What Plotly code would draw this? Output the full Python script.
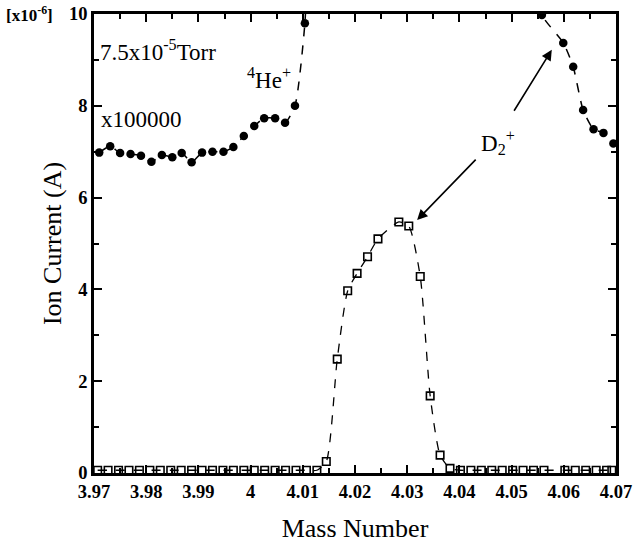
import plotly.graph_objects as go

# 4He+ signal (scaled x100000), left flank of the peak; last value runs off scale
he_left_mass = [3.9710, 3.9731, 3.9750, 3.9770, 3.9790, 3.9810, 3.9830, 3.9850,
                3.9868, 3.9887, 3.9907, 3.9927, 3.9948, 3.9967, 3.9987, 4.0007,
                4.0026, 4.0047, 4.0066, 4.0085, 4.0104, 4.0108]
he_left_current = [6.98, 7.12, 6.97, 6.95, 6.91, 6.78, 6.93, 6.88,
                   6.97, 6.77, 6.98, 7.00, 7.00, 7.10, 7.34, 7.56,
                   7.73, 7.73, 7.63, 8.00, 9.80, 11.0]

# 4He+ signal (scaled x100000), right flank of the peak; first value is off scale
he_right_mass = [4.0540, 4.0558, 4.0599, 4.0618, 4.0637, 4.0657, 4.0676, 4.0695]
he_right_current = [11.0, 9.98, 9.37, 8.85, 7.91, 7.49, 7.41, 7.18]

# D2+ signal, unscaled
d2_mass = [3.9707, 3.9727, 3.9747, 3.9767, 3.9787, 3.9807, 3.9827, 3.9847,
           3.9867, 3.9887, 3.9907, 3.9927, 3.9947, 3.9967, 3.9987, 4.0007,
           4.0027, 4.0047, 4.0067, 4.0087, 4.0107, 4.0127,
           4.0145, 4.0166, 4.0186, 4.0204, 4.0224, 4.0244, 4.0284, 4.0303,
           4.0325, 4.0344, 4.0363, 4.0382,
           4.0402, 4.0422, 4.0442, 4.0462, 4.0482, 4.0502, 4.0522, 4.0542,
           4.0562, 4.0602, 4.0622, 4.0642, 4.0662, 4.0682, 4.0692]
d2_current = [0.06, 0.06, 0.06, 0.06, 0.06, 0.06, 0.06, 0.06,
              0.06, 0.06, 0.06, 0.06, 0.06, 0.06, 0.06, 0.06,
              0.06, 0.06, 0.06, 0.06, 0.06, 0.06,
              0.25, 2.48, 3.97, 4.35, 4.71, 5.10, 5.47, 5.38,
              4.28, 1.68, 0.39, 0.10,
              0.06, 0.06, 0.06, 0.06, 0.06, 0.06, 0.06, 0.06,
              0.06, 0.06, 0.06, 0.06, 0.06, 0.06, 0.06]

x_range = [3.97, 4.07]
y_range = [0, 10]
x_tick_vals = [3.97, 3.98, 3.99, 4.00, 4.01, 4.02, 4.03, 4.04, 4.05, 4.06, 4.07]
x_tick_text = ["3.97", "3.98", "3.99", "4", "4.01", "4.02", "4.03", "4.04", "4.05", "4.06", "4.07"]
y_tick_vals = [0, 2, 4, 6, 8, 10]

SERIF = "Liberation Serif, Times New Roman, serif"
INK = "black"

fig = go.Figure()

circle_style = dict(mode="lines+markers",
                    line=dict(color=INK, width=1.5, dash="dash", shape="spline", smoothing=0.6),
                    marker=dict(symbol="circle", size=8.5, color=INK),
                    showlegend=False, hoverinfo="x+y")

fig.add_trace(go.Scatter(x=he_left_mass, y=he_left_current, **circle_style))
fig.add_trace(go.Scatter(x=he_right_mass, y=he_right_current, **circle_style))

# D2+ series lives on the top/right frame axes (same ranges), so those axes get drawn
fig.add_trace(go.Scatter(
    x=d2_mass, y=d2_current, mode="lines+markers", xaxis="x2", yaxis="y2",
    line=dict(color=INK, width=1.3, dash="dash", shape="spline", smoothing=0.6),
    marker=dict(symbol="square-open", size=7.5, color=INK, line=dict(width=1.6, color=INK)),
    showlegend=False, hoverinfo="x+y"))

axis_common = dict(showline=True, linecolor=INK, linewidth=2.5,
                   ticks="inside", tickcolor=INK, tickwidth=2, ticklen=8,
                   showgrid=False, zeroline=False, automargin=False,
                   tickfont=dict(family=SERIF, size=18.5, color=INK, weight="bold"))
x_minor = dict(ticks="inside", dtick=0.005, tick0=3.97, ticklen=5, tickwidth=1.5, tickcolor=INK)
y_minor = dict(ticks="inside", dtick=1, tick0=0, ticklen=5, tickwidth=1.5, tickcolor=INK)

fig.update_layout(
    xaxis=dict(range=x_range, tickvals=x_tick_vals, ticktext=x_tick_text, minor=x_minor,
               title=dict(text="Mass Number", font=dict(family=SERIF, size=26, color=INK),
                          standoff=18),
               **axis_common),
    yaxis=dict(range=y_range, tickvals=y_tick_vals, minor=y_minor,
               title=dict(text="Ion Current (A)", font=dict(family=SERIF, size=26, color=INK),
                          standoff=0),
               **axis_common),
    xaxis2=dict(range=x_range, tickvals=x_tick_vals, minor=x_minor, side="top",
                overlaying="x", anchor="y2", showticklabels=False, **axis_common),
    yaxis2=dict(range=y_range, tickvals=y_tick_vals, minor=y_minor, side="right",
                overlaying="y", anchor="x2", showticklabels=False, **axis_common),
)

text_font = dict(family=SERIF, size=23, color=INK)
annotations = [
    dict(text="[x10<sup>-6</sup>]", xref="paper", yref="paper", x=-0.172, y=1.0,
         xanchor="left", yanchor="middle", showarrow=False,
         font=dict(family=SERIF, size=17, color=INK, weight="bold")),
    dict(text="7.5x10<sup>-5</sup>Torr", xref="x", yref="y", x=3.9708, y=9.2,
         xanchor="left", yanchor="middle", showarrow=False, font=text_font),
    dict(text="x100000", xref="x", yref="y", x=3.9710, y=7.7,
         xanchor="left", yanchor="middle", showarrow=False, font=text_font),
    dict(text="<sup>4</sup>He<sup>+</sup>", xref="x", yref="y", x=4.0036, y=8.6,
         xanchor="center", yanchor="middle", showarrow=False, font=text_font),
    dict(text="D<sub>2</sub><sup>+</sup>", xref="x", yref="y", x=4.0474, y=7.2,
         xanchor="center", yanchor="middle", showarrow=False, font=text_font),
    # arrows from the D2+ label to both peaks
    dict(x=4.0577, y=9.22, ax=4.0503, ay=7.86, xref="x", yref="y", axref="x", ayref="y",
         showarrow=True, arrowhead=2, arrowsize=1.3, arrowwidth=1.6, arrowcolor=INK, text=""),
    dict(x=4.0319, y=5.51, ax=4.0434, ay=6.86, xref="x", yref="y", axref="x", ayref="y",
         showarrow=True, arrowhead=2, arrowsize=1.3, arrowwidth=1.6, arrowcolor=INK, text=""),
]

fig.update_layout(width=633, height=547,
                  margin=dict(l=94, r=17, t=14, b=74),
                  paper_bgcolor="white", plot_bgcolor="white",
                  annotations=annotations)

fig.write_html("out.html")
